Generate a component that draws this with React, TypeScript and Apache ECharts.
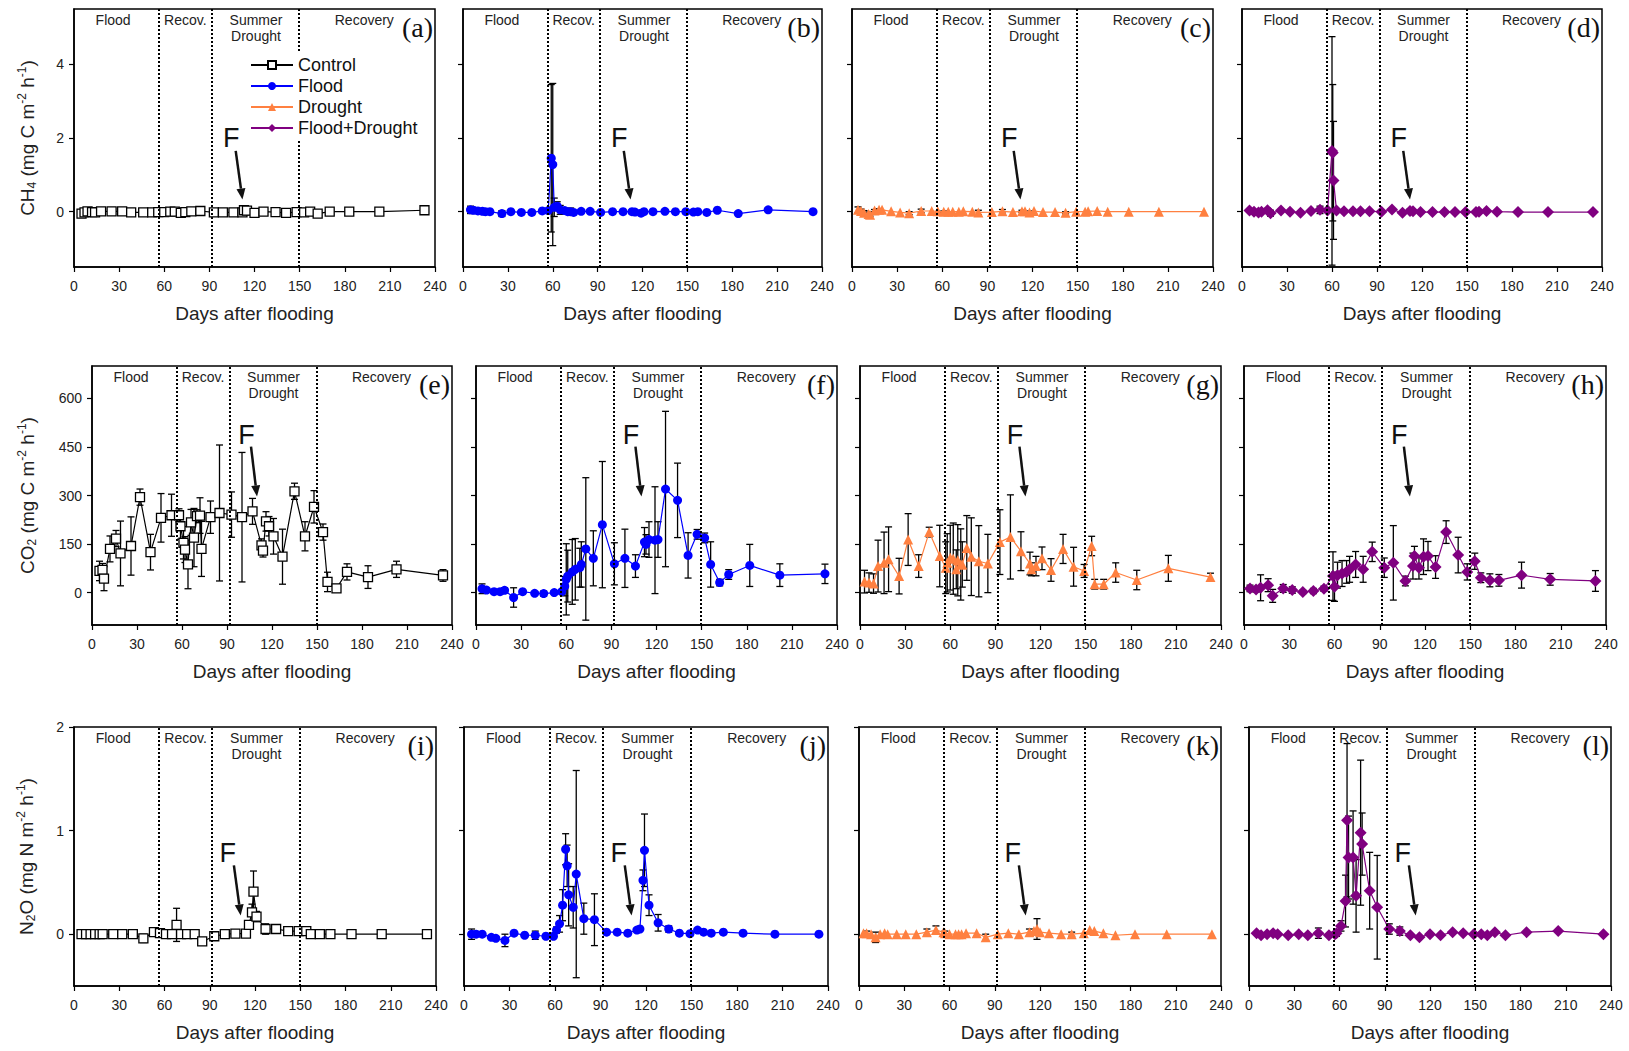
import React, { useEffect, useRef } from 'react';
import * as echarts from 'echarts';

type Pt = [number, number, number]; // [day, mean, error]

// ---------- CH4 (mg C m-2 h-1) ----------
const CH4_CONTROL: Pt[] = [[5,-0.05,0],[7,-0.02,0],[9,0.01,0],[12,-0.01,0],[14,-0.02,0],[18,0.01,0],[25,0.01,0],[32,0.01,0],[38,-0.02,0],[46,-0.02,0],[52,-0.02,0],[56,-0.01,0],[60,-0.01,0],[64,0.0,0],[67,0.0,0],[71,-0.03,0],[74,-0.01,0],[78,0.01,0],[84,0.02,0],[93,-0.02,0],[99,-0.02,0],[106,-0.02,0],[112,-0.02,0],[113,0.04,0],[115,0.03,0],[120,-0.03,0],[126,0.0,0],[134,-0.01,0],[141,-0.03,0],[148,-0.01,0],[153,-0.02,0],[157,0.0,0],[162,-0.05,0],[170,0.0,0],[183,0.0,0],[203,0.0,0],[233,0.04,0]];
const CH4_FLOOD: Pt[] = [[5,0.05,0.1],[7,0.04,0.05],[10,0.02,0],[13,0.01,0],[15,0.0,0],[18,0.0,0],[26,-0.05,0.08],[32,0.0,0],[39,-0.02,0],[46,-0.02,0],[53,0.02,0],[57,0.03,0],[59,1.45,2.0],[60,1.28,2.2],[61,0.12,0.25],[63,0.15,0.12],[65,0.05,0.12],[68,0.03,0],[70,0.0,0],[72,0.0,0.1],[74,-0.02,0],[79,0.01,0],[85,0.01,0],[92,-0.02,0],[100,0.0,0],[107,0.0,0],[113,0.0,0.05],[115,-0.01,0],[119,-0.04,0],[121,0.0,0],[127,0.0,0],[135,0.01,0],[142,0.0,0],[149,0.0,0],[154,-0.01,0],[157,0.0,0],[163,-0.02,0],[170,0.04,0],[184,-0.05,0],[204,0.05,0],[234,0.0,0]];
const CH4_DROUGHT: Pt[] = [[4,0.05,0.08],[6,0.02,0.05],[8,-0.03,0.06],[11,-0.06,0.05],[12,-0.08,0.04],[15,0.03,0.03],[18,0.05,0.03],[20,0.05,0],[26,0.01,0],[32,-0.02,0],[38,-0.04,0.04],[46,0.02,0.05],[53,0.02,0],[57,0.01,0],[61,0.0,0.02],[64,0.0,0],[67,0.0,0],[71,0.0,0],[74,0.01,0],[80,0.0,0],[84,-0.02,0.06],[93,-0.01,0],[100,0.01,0.05],[107,-0.01,0],[113,0.01,0.03],[115,0.01,0],[118,-0.02,0.04],[121,0.02,0],[127,-0.01,0],[135,-0.01,0],[142,-0.03,0.03],[149,0.0,0],[155,0.0,0],[157,0.01,0],[163,0.02,0],[170,0.0,0],[184,0.0,0],[204,0.0,0],[234,0.0,0]];
const CH4_FLOOD_DROUGHT: Pt[] = [[5,0.03,0],[8,0.0,0],[11,-0.02,0],[13,0.0,0],[17,0.04,0.05],[19,-0.04,0.08],[26,0.03,0],[32,0.0,0],[39,-0.03,0],[46,0.02,0],[52,0.05,0.1],[57,0.03,0],[60,1.65,3.1],[60.5,1.6,1.85],[61,0.85,1.6],[63,0.03,0],[68,0.01,0],[74,0.01,0],[79,0.01,0],[85,0.01,0],[93,0.0,0],[100,0.06,0],[107,-0.03,0],[112,0.02,0.05],[114,0.01,0],[119,-0.01,0],[127,-0.01,0],[135,-0.01,0],[142,-0.01,0],[149,-0.01,0],[156,-0.01,0],[158,0.0,0],[163,0.02,0],[170,0.0,0],[184,-0.01,0],[204,-0.01,0],[234,-0.01,0]];

// ---------- CO2 (mg C m-2 h-1) ----------
const CO2_CONTROL: Pt[] = [[5,67,30],[7,70,20],[8,43,37],[12,135,40],[16,167,25],[19,121,100],[26,144,90],[32,295,25],[39,125,55],[46,231,75],[53,239,65],[58,239,20],[59,205,40],[61,154,50],[62,133,40],[64,87,75],[66,217,40],[68,170,90],[70,236,20],[72,238,55],[73,135,85],[79,233,50],[85,246,210],[93,241,70],[100,233,200],[107,251,40],[113,146,20],[114,130,20],[116,220,30],[118,205,30],[121,174,55],[127,111,85],[135,313,25],[142,174,45],[148,265,50],[154,187,25],[157,33,30],[163,13,12],[170,64,25],[184,48,35],[203,72,25],[234,53,18]];
const CO2_FLOOD: Pt[] = [[4,12,15],[7,8,5],[12,3,5],[16,3,5],[19,7,8],[25,-15,30],[31,3,5],[39,-2,5],[45,-3,8],[52,0,5],[57,3,5],[59,20,30],[60,41,110],[61,51,80],[64,64,100],[66,72,95],[69,77,60],[70,87,70],[73,135,220],[78,106,85],[84,210,195],[92,89,65],[99,106,90],[106,82,35],[112,156,45],[113,149,30],[115,164,55],[119,162,165],[121,164,55],[126,320,240],[134,285,115],[141,115,70],[147,180,15],[152,169,15],[156,87,70],[162,31,10],[168,56,15],[182,84,65],[202,54,35],[232,58,30]];
const CO2_DROUGHT: Pt[] = [[3,34,35],[6,31,30],[9,28,30],[12,82,80],[16,92,95],[19,103,100],[26,51,55],[32,164,80],[39,82,35],[46,187,15],[53,113,95],[57,77,80],[58,92,90],[60,108,100],[62,105,110],[64,72,60],[65,100,110],[67,87,110],[68,87,70],[71,138,100],[74,111,120],[79,97,110],[85,90,90],[93,156,100],[100,172,130],[107,128,60],[113,90,35],[114,72,20],[117,82,30],[121,106,35],[127,70,35],[135,135,45],[142,80,60],[149,67,20],[154,144,30],[156,26,15],[162,26,15],[170,62,30],[184,39,30],[205,75,40],[233,48,12]];
const CO2_FLOOD_DROUGHT: Pt[] = [[4,13,10],[8,10,8],[11,15,40],[16,23,20],[19,-10,20],[26,13,12],[32,8,10],[39,2,5],[46,5,8],[53,12,8],[59,51,75],[60,18,45],[62,54,40],[65,59,40],[68,64,35],[70,72,40],[74,87,40],[79,72,40],[85,126,30],[93,77,30],[99,92,115],[107,36,15],[112,82,40],[113,113,30],[116,77,35],[119,111,55],[122,113,45],[127,79,35],[134,187,35],[142,116,55],[148,64,25],[153,97,25],[157,46,15],[163,38,20],[169,38,18],[184,54,40],[203,41,18],[233,36,32]];

// ---------- N2O (mg N m-2 h-1) ----------
const N2O_CONTROL: Pt[] = [[5,0,0],[8,0,0],[11,0,0],[14,0,0],[17,0,0],[19,0,0],[26,0,0],[32,0,0],[39,0,0],[46,-0.04,0.04],[53,0.02,0],[57,0.01,0.02],[61,0,0],[65,0,0],[68,0.09,0.16],[71,0,0],[75,0,0],[80,0,0],[85,-0.07,0.02],[93,-0.02,0],[100,0,0],[107,0.005,0],[114,0.005,0],[116,0.09,0.03],[118,0.21,0.08],[119,0.41,0.2],[121,0.17,0.05],[127,0.05,0.05],[134,0.05,0],[142,0.03,0],[149,0.03,0],[154,0.03,0],[157,0,0],[163,0,0],[170,0,0],[184,0,0],[204,0,0],[234,0,0]];
const N2O_FLOOD: Pt[] = [[5,0,0.05],[8,0,0],[12,0,0],[18,-0.03,0],[21,-0.04,0],[27,-0.06,0.06],[33,0.01,0],[40,-0.01,0],[47,-0.01,0.04],[54,-0.02,0],[59,-0.02,0],[61,0.04,0.03],[63,0.1,0.08],[65,0.28,0.15],[67,0.82,0.15],[68,0.66,0.2],[69,0.38,0.3],[72,0.26,0.2],[74,0.58,1.0],[79,0.15,0.15],[86,0.14,0.25],[94,0.02,0],[101,0.02,0],[108,0.01,0],[114,0.04,0],[116,0.05,0],[118,0.52,0.1],[119,0.81,0.35],[122,0.28,0.1],[128,0.11,0.08],[135,0.05,0.03],[142,0.01,0],[149,0.005,0],[154,0.04,0],[158,0.02,0],[163,0.01,0],[171,0.02,0],[184,0.01,0],[205,0,0],[234,0,0]];
const N2O_DROUGHT: Pt[] = [[3,0.01,0],[5,0.01,0.02],[8,0.0,0],[11,-0.03,0.05],[14,0.0,0],[17,0.01,0],[19,0.0,0],[25,0.0,0],[31,0.0,0],[38,0.0,0],[45,0.02,0.03],[51,0.04,0.04],[56,0.02,0],[57,0.01,0.02],[60,0.0,0],[64,0.0,0],[66,0.0,0],[68,0.0,0],[71,0.01,0],[78,0.01,0],[84,-0.03,0.03],[92,0.0,0],[99,0.01,0],[106,0.0,0],[113,0.02,0.03],[116,0.03,0],[118,0.05,0.1],[120,0.02,0],[126,0.01,0],[134,0.0,0],[141,0.0,0.02],[149,0.01,0],[153,0.04,0],[156,0.03,0],[162,0.01,0],[170,-0.01,0],[183,0.0,0],[204,0.0,0],[234,0.0,0]];
const N2O_FLOOD_DROUGHT: Pt[] = [[5,0.01,0],[8,-0.01,0],[12,0,0],[16,0.01,0],[19,0,0],[26,-0.01,0],[33,0,0],[39,-0.01,0],[46,0.01,0.05],[53,-0.01,0],[57,0,0.02],[58,0.01,0.03],[61,0.08,0.05],[64,0.32,0.25],[65,1.1,0.74],[66,0.74,0.4],[69,0.74,0.45],[71,0.37,0.35],[74,0.98,0.7],[75,0.87,0.3],[80,0.42,0.37],[85,0.26,0.5],[93,0.05,0.05],[100,0.03,0.04],[107,-0.01,0],[113,-0.03,0],[120,0,0],[127,-0.01,0],[135,0.02,0],[142,0.01,0],[149,0,0],[154,0,0],[158,-0.01,0],[163,0.02,0],[170,-0.01,0],[184,0.02,0],[205,0.03,0],[235,0,0]];

const TREATMENTS = ['Control', 'Flood', 'Drought', 'Flood+Drought'];
const PANEL_DATA: Pt[][][] = [
  [CH4_CONTROL, CH4_FLOOD, CH4_DROUGHT, CH4_FLOOD_DROUGHT],
  [CO2_CONTROL, CO2_FLOOD, CO2_DROUGHT, CO2_FLOOD_DROUGHT],
  [N2O_CONTROL, N2O_FLOOD, N2O_DROUGHT, N2O_FLOOD_DROUGHT],
];
const PANEL_LETTERS = ['(a)','(b)','(c)','(d)','(e)','(f)','(g)','(h)','(i)','(j)','(k)','(l)'];
const PHASE_BOUNDS = [56.5, 91.5, 149.5];
const PHASE_LABELS: [string, number][] = [['Flood', 26], ['Recov.', 74], ['Summer\nDrought', 121], ['Recovery', 193]];
const X_TITLE = 'Days after flooding';
const ROW_TITLES = [
  'CH{sub|4} (mg C m{sup|-2} h{sup|-1})',
  'CO{sub|2} (mg C m{sup|-2} h{sup|-1})',
  'N{sub|2}O (mg N m{sup|-2} h{sup|-1})',
];
const ROW_RANGE: [number, number][] = [[-1.5, 5.5], [-100, 700], [-0.5, 2]];
const ROW_TICKS = [[0, 2, 4], [0, 150, 300, 450, 600], [0, 1, 2]];
// fertilization "F" label and arrow (data coordinates)
const F_LABEL: [number, number][] = [[104.5, 2.0], [103, 488], [102, 0.78]];
const F_ARROW: [number, number][][] = [[[107.5, 1.65], [112, 0.33]], [[106, 451], [110, 297]], [[106, 0.665], [110.5, 0.18]]];

// layout
const ROW_TOP = [9, 366, 727];
const ROW_H = 258;
const COL_LEFT = [[74, 463, 852, 1242], [92, 476, 860, 1244], [74, 464, 859, 1249]];
const COL_W = [[361, 359, 361, 360], [360, 361, 361, 362], [362, 364, 362, 362]];
const Y_NAME_GAP = [36, 54, 37];

const SANS = "'Liberation Sans', Arial, sans-serif";
const SERIF = "'Liberation Serif', 'Times New Roman', serif";
const INK = '#222';

const STYLE: Record<string, { color: string; fill: string; symbol: string; size: number }> = {
  Control: { color: '#000000', fill: '#ffffff', symbol: 'rect', size: 9 },
  Flood: { color: '#0000ff', fill: '#0000ff', symbol: 'circle', size: 9 },
  Drought: { color: '#ff8040', fill: '#ff8040', symbol: 'triangle', size: 10 },
  'Flood+Drought': { color: '#800080', fill: '#800080', symbol: 'diamond', size: 12 },
};

export default function App() {
  const ref = useRef<HTMLDivElement>(null);
  useEffect(() => {
    if (!ref.current) return;
    const chart = echarts.init(ref.current, undefined, { renderer: 'svg' });
    const grids: any[] = [];
    const xAxes: any[] = [];
    const yAxes: any[] = [];
    const series: any[] = [];
    const panels: { row: number; col: number }[] = [];
    for (let r = 0; r < 3; r++) {
      for (let c = 0; c < 4; c++) {
        const i = r * 4 + c;
        panels.push({ row: r, col: c });
        const treat = TREATMENTS[c];
        const st = STYLE[treat];
        const data = PANEL_DATA[r][c];
        grids.push({
          left: COL_LEFT[r][c], top: ROW_TOP[r], width: COL_W[r][c], height: ROW_H + (r === 0 ? 0 : 1),
          show: true, borderColor: '#000', borderWidth: 1.5, backgroundColor: 'transparent',
        });
        xAxes.push({
          gridIndex: i, type: 'value', min: 0, max: 240, interval: 30,
          axisLine: { show: true, onZero: false, lineStyle: { color: '#000', width: 1.5 } },
          axisTick: { show: true, length: 5, lineStyle: { color: '#000', width: 1.2 } },
          axisLabel: { fontSize: 14, fontFamily: SANS, color: INK, margin: 12 },
          splitLine: { show: false },
          name: X_TITLE, nameLocation: 'middle', nameGap: 37,
          nameTextStyle: { fontSize: 19, fontFamily: SANS, color: INK },
        });
        yAxes.push({
          gridIndex: i, type: 'value', min: ROW_RANGE[r][0], max: ROW_RANGE[r][1],
          axisLine: { show: true, onZero: false, lineStyle: { color: '#000', width: 1.5 } },
          axisTick: { show: true, length: 5, customValues: ROW_TICKS[r], lineStyle: { color: '#000', width: 1.2 } },
          axisLabel: { show: c === 0, customValues: ROW_TICKS[r], fontSize: 14, fontFamily: SANS, color: INK, margin: 10 },
          splitLine: { show: false },
          name: c === 0 ? ROW_TITLES[r] : '',
          nameLocation: 'middle', nameGap: Y_NAME_GAP[r], nameRotate: 90,
          nameTextStyle: {
            fontSize: 19, fontFamily: SANS, color: INK, lineHeight: 22,
            rich: {
              sub: { fontSize: 12, fontFamily: SANS, color: INK, verticalAlign: 'bottom', lineHeight: 22 },
              sup: { fontSize: 12, fontFamily: SANS, color: INK, verticalAlign: 'top', lineHeight: 22 },
            },
          },
        });
        series.push({
          type: 'custom', xAxisIndex: i, yAxisIndex: i, data, z: 1, silent: true,
          encode: { x: 0, y: 1 },
          renderItem: (_p: any, api: any) => {
            const x = api.value(0), y = api.value(1), e = api.value(2);
            if (!e) return null;
            const t = api.coord([x, y + e]);
            const b = api.coord([x, y - e]);
            const cap = 3.5;
            const s = { stroke: '#000', lineWidth: 1.3 };
            return {
              type: 'group', children: [
                { type: 'line', shape: { x1: t[0], y1: t[1], x2: b[0], y2: b[1] }, style: s },
                { type: 'line', shape: { x1: t[0] - cap, y1: t[1], x2: t[0] + cap, y2: t[1] }, style: s },
                { type: 'line', shape: { x1: b[0] - cap, y1: b[1], x2: b[0] + cap, y2: b[1] }, style: s },
              ],
            };
          },
        });
        series.push({
          type: 'line', name: treat, xAxisIndex: i, yAxisIndex: i, z: 3,
          data: data.map((d) => [d[0], d[1]]),
          symbol: st.symbol, symbolSize: st.size, showAllSymbol: true,
          lineStyle: { color: st.color, width: 1.2 },
          itemStyle: { color: st.fill, borderColor: st.color, borderWidth: treat === 'Control' ? 1.3 : 0 },
          markLine: {
            silent: true, symbol: ['none', 'none'], label: { show: false },
            lineStyle: { color: '#000', type: [2, 2], width: 2 },
            data: PHASE_BOUNDS.map((b) => ({ xAxis: b })),
          },
        });
      }
    }
    chart.setOption({
      animation: false,
      backgroundColor: '#fff',
      grid: grids, xAxis: xAxes, yAxis: yAxes, series,
      legend: {
        data: TREATMENTS, orient: 'vertical', left: 246, top: 52,
        itemWidth: 42, itemHeight: 10, itemGap: 3, padding: [4, 6, 4, 4],
        backgroundColor: '#fff', z: 10,
        textStyle: { fontSize: 18, lineHeight: 18, fontFamily: SANS, color: '#111' },
      },
    });

    const g: any[] = [];
    panels.forEach((p, i) => {
      const r = p.row;
      const toPx = (x: number, y: number) => chart.convertToPixel({ xAxisIndex: i, yAxisIndex: i } as any, [x, y]) as number[];
      const topY = toPx(0, ROW_RANGE[r][1])[1];
      const rightX = toPx(240, ROW_RANGE[r][1])[0];
      PHASE_LABELS.forEach(([txt, day]) => {
        const px = toPx(day, 0)[0];
        g.push({
          type: 'text', x: px, y: topY + 3, silent: true, z: 20,
          style: { text: txt, fontSize: 14, fontFamily: SANS, fill: INK, textAlign: 'center', textVerticalAlign: 'top', align: 'center', verticalAlign: 'top', lineHeight: 16 },
        });
      });
      g.push({
        type: 'text', x: rightX - 2, y: topY + 18, silent: true, z: 20,
        style: { text: PANEL_LETTERS[i], fontSize: 28, fontFamily: SERIF, fill: '#111', textAlign: 'right', textVerticalAlign: 'middle', align: 'right', verticalAlign: 'middle' },
      });
      const fp = toPx(F_LABEL[r][0], F_LABEL[r][1]);
      g.push({
        type: 'text', x: fp[0], y: fp[1], silent: true, z: 20,
        style: { text: 'F', fontSize: 27, fontFamily: SANS, fill: '#111', textAlign: 'center', textVerticalAlign: 'middle', align: 'center', verticalAlign: 'middle' },
      });
      const a = toPx(F_ARROW[r][0][0], F_ARROW[r][0][1]);
      const b = toPx(F_ARROW[r][1][0], F_ARROW[r][1][1]);
      const dx = b[0] - a[0], dy = b[1] - a[1];
      const len = Math.sqrt(dx * dx + dy * dy);
      const ux = dx / len, uy = dy / len;
      const hl = 11, hw = 4.5;
      const bx = b[0] - ux * hl, by = b[1] - uy * hl;
      g.push({
        type: 'line', silent: true, z: 20,
        shape: { x1: a[0], y1: a[1], x2: bx, y2: by },
        style: { stroke: '#111', lineWidth: 2.5 },
      });
      g.push({
        type: 'polygon', silent: true, z: 20,
        shape: { points: [[b[0], b[1]], [bx - uy * hw, by + ux * hw], [bx + uy * hw, by - ux * hw]] },
        style: { fill: '#111' },
      });
    });
    chart.setOption({ graphic: { elements: g } });

    return () => chart.dispose();
  }, []);
  return <div ref={ref} style={{ position: 'absolute', left: 0, top: 0, width: 1629, height: 1051 }} />;
}
